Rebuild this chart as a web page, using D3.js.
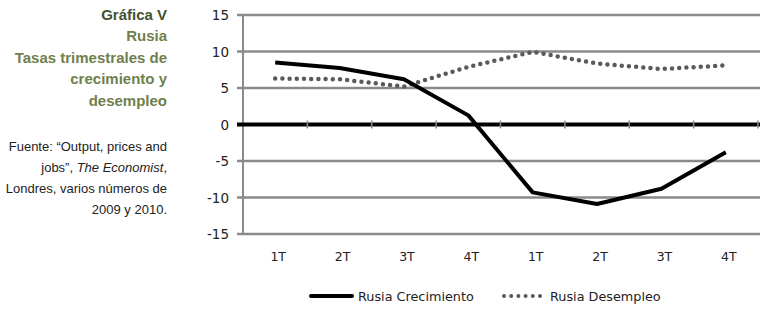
<!DOCTYPE html>
<html>
<head>
<meta charset="utf-8">
<script src="https://cdn.jsdelivr.net/npm/d3@7"></script>
<style>
  body { margin: 0; background: #fff; }
</style>
</head>
<body>
<svg width="765" height="310"></svg>
<script>
var quarters = ["1T", "2T", "3T", "4T", "1T", "2T", "3T", "4T"];
var crecimiento = [8.5, 7.75, 6.2, 1.25, -9.3, -10.9, -8.8, -3.8];
var desempleo = [6.3, 6.2, 5.2, 7.9, 9.95, 8.35, 7.6, 8.1];
var yTicks = [15, 10, 5, 0, -5, -10, -15];
var titleLines = ["Gráfica V", "Rusia", "Tasas trimestrales de", "crecimiento y", "desempleo"];

var svg = d3.select("svg");

var plotLeft = 243, plotRight = 758, plotTop = 15, plotBottom = 234;

var xScale = d3.scaleBand()
    .domain(d3.range(quarters.length))
    .range([plotLeft, plotRight]);
var yScale = d3.scaleLinear().domain([-15, 15]).range([plotBottom, plotTop]);

// gridlines
svg.selectAll(".grid")
    .data(yTicks.filter(function (d) { return d != 0; }))
    .join("line")
    .attr("x1", plotLeft - 6)
    .attr("x2", plotRight + 2)
    .attr("y1", function (d) { return yScale(d); })
    .attr("y2", function (d) { return yScale(d); })
    .attr("stroke", "#8a8a8a")
    .attr("stroke-width", 2.5);

// y axis line
svg.append("line")
    .attr("x1", plotLeft).attr("x2", plotLeft)
    .attr("y1", plotTop).attr("y2", plotBottom)
    .attr("stroke", "#8a8a8a")
    .attr("stroke-width", 2);

// zero line with tick marks
svg.append("line")
    .attr("x1", plotLeft - 6)
    .attr("x2", plotRight + 2)
    .attr("y1", yScale(0))
    .attr("y2", yScale(0))
    .attr("stroke", "#000")
    .attr("stroke-width", 4);

svg.selectAll(".xtick")
    .data(d3.range(1, quarters.length + 1))
    .join("line")
    .attr("x1", function (i) { return plotLeft + i * xScale.bandwidth(); })
    .attr("x2", function (i) { return plotLeft + i * xScale.bandwidth(); })
    .attr("y1", yScale(0) - 4)
    .attr("y2", yScale(0) + 4)
    .attr("stroke", "#8a8a8a")
    .attr("stroke-width", 1.5);

// y labels
svg.selectAll(".ylab")
    .data(yTicks)
    .join("text")
    .attr("x", 229)
    .attr("y", function (d) { return yScale(d) + 5; })
    .attr("text-anchor", "end")
    .attr("font-family", "DejaVu Sans, Verdana, sans-serif")
    .attr("font-size", 13.5)
    .attr("fill", "#222")
    .text(function (d) { return d; });

// x labels
svg.selectAll(".xlab")
    .data(quarters)
    .join("text")
    .attr("x", function (d, i) { return xScale(i) + xScale.bandwidth() / 2 + 3; })
    .attr("y", 261)
    .attr("text-anchor", "middle")
    .attr("font-family", "DejaVu Sans, Verdana, sans-serif")
    .attr("font-size", 12.5)
    .attr("fill", "#222")
    .text(function (d) { return d; });

var line = d3.line()
    .x(function (d, i) { return xScale(i) + xScale.bandwidth() / 2; })
    .y(function (d) { return yScale(d); });

svg.append("path")
    .attr("d", line(desempleo))
    .attr("fill", "none")
    .attr("stroke", "#595959")
    .attr("stroke-width", 4.5)
    .attr("stroke-linecap", "round")
    .attr("stroke-dasharray", "0 7.2");

svg.append("path")
    .attr("d", line(crecimiento))
    .attr("fill", "none")
    .attr("stroke", "#000")
    .attr("stroke-width", 4)
    .attr("stroke-linejoin", "round");

// legend
var lg = svg.append("g").attr("font-family", "DejaVu Sans, Verdana, sans-serif")
    .attr("font-size", 12.8).attr("fill", "#222");
lg.append("line").attr("x1", 311).attr("x2", 352).attr("y1", 296).attr("y2", 296)
    .attr("stroke", "#000").attr("stroke-width", 4).attr("stroke-linecap", "round");
lg.append("text").attr("x", 358).attr("y", 300.5).text("Rusia Crecimiento");
lg.append("line").attr("x1", 504).attr("x2", 542).attr("y1", 296).attr("y2", 296)
    .attr("stroke", "#595959").attr("stroke-width", 4).attr("stroke-linecap", "round")
    .attr("stroke-dasharray", "0 7.2");
lg.append("text").attr("x", 550).attr("y", 300.5).text("Rusia Desempleo");

// title block
svg.selectAll(".title")
    .data(titleLines)
    .join("text")
    .attr("x", 167)
    .attr("y", function (d, i) { return 19.5 + i * 21.5; })
    .attr("text-anchor", "end")
    .attr("font-family", "Liberation Sans, Arial, sans-serif")
    .attr("font-weight", "bold")
    .attr("font-size", 15)
    .attr("fill", function (d, i) { return i == 0 ? "#44522f" : "#6f7f4c"; })
    .text(function (d) { return d; });

var src = svg.append("text")
    .attr("text-anchor", "end")
    .attr("font-family", "Liberation Sans, Arial, sans-serif")
    .attr("font-size", 13)
    .attr("fill", "#222");
src.append("tspan").attr("x", 167).attr("y", 151).text("Fuente: \u201cOutput, prices and");
var l2 = src.append("tspan").attr("x", 167).attr("y", 172);
l2.append("tspan").text("jobs\u201d, ");
l2.append("tspan").attr("font-style", "italic").text("The Economist");
l2.append("tspan").text(",");
src.append("tspan").attr("x", 167).attr("y", 193).text("Londres, varios n\u00fameros de");
src.append("tspan").attr("x", 167).attr("y", 214).text("2009 y 2010.");
</script>
</body>
</html>
